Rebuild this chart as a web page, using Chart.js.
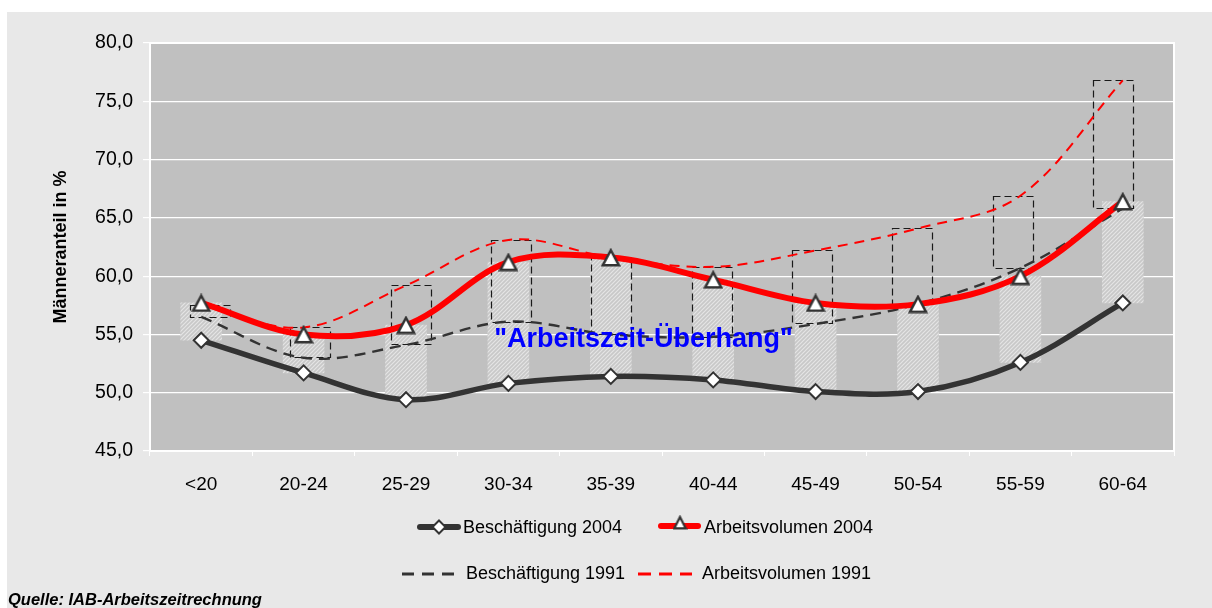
<!DOCTYPE html>
<html><head><meta charset="utf-8">
<script src="https://cdn.jsdelivr.net/npm/chart.js@4.4.1/dist/chart.umd.min.js"></script>
<style>html,body{margin:0;padding:0;background:#fff;}</style>
</head><body>
<canvas id="c" width="1212" height="608"></canvas>
<script>
const categories = ['<20','20-24','25-29','30-34','35-39','40-44','45-49','50-54','55-59','60-64'];
const beschaeftigung2004 = [54.5, 51.7, 49.4, 50.8, 51.4, 51.1, 50.1, 50.1, 52.6, 57.7];
const arbeitsvolumen2004 = [57.7, 55.0, 55.8, 61.2, 61.6, 59.7, 57.7, 57.6, 60.0, 66.4];
const beschaeftigung1991 = [56.5, 53.0, 54.1, 56.1, 55.0, 54.8, 55.9, 57.6, 60.7, 65.8];
const arbeitsvolumen1991 = [57.5, 55.6, 59.2, 63.1, 61.6, 60.8, 62.2, 64.1, 66.9, 76.8];
const seriesNames = ['Beschäftigung 2004','Arbeitsvolumen 2004','Beschäftigung 1991','Arbeitsvolumen 1991'];
const annotationText = '"Arbeitszeit-Überhang"';
const sourceText = 'Quelle: IAB-Arbeitszeitrechnung';
const yTitle = 'Männeranteil in %';

const FONT = '"Liberation Sans", Arial, sans-serif';

function makeHatch(){
  const c = document.createElement('canvas'); c.width = 4; c.height = 4;
  const g = c.getContext('2d');
  g.fillStyle = '#c8c8c8'; g.fillRect(0,0,4,4);
  g.strokeStyle = '#e4e4e4'; g.lineWidth = 1.2;
  g.beginPath(); g.moveTo(-1,5); g.lineTo(5,-1); g.stroke();
  g.beginPath(); g.moveTo(-1,1); g.lineTo(1,-1); g.stroke();
  g.beginPath(); g.moveTo(3,5); g.lineTo(5,3); g.stroke();
  return document.createElement('canvas').getContext('2d').createPattern(c,'repeat');
}
function makeTriangle(w, h, lw){
  const c = document.createElement('canvas'); c.width = w; c.height = h;
  const g = c.getContext('2d');
  g.fillStyle = '#fff'; g.strokeStyle = '#333'; g.lineWidth = lw; g.lineJoin = 'miter';
  g.beginPath();
  g.moveTo(w/2, lw*0.9);
  g.lineTo(w - lw*0.8, h - lw/2 - 0.5);
  g.lineTo(lw*0.8, h - lw/2 - 0.5);
  g.closePath(); g.fill(); g.stroke();
  return c;
}
const triBig = makeTriangle(20, 19, 2.5);
const triSmall = makeTriangle(15, 15, 2.2);
const hatch = makeHatch();

const boxData = beschaeftigung1991.map((v,i)=>({x:i, y:[v, arbeitsvolumen1991[i]]}));

const plugin = {
  id: 'custom',
  beforeDraw(chart){
    const {ctx, chartArea:a} = chart;
    ctx.save();
    ctx.fillStyle = '#ffffff'; ctx.fillRect(0,0,chart.width,chart.height);
    ctx.fillStyle = '#e8e8e8'; ctx.fillRect(7,12,chart.width-7,chart.height-12);
    ctx.fillStyle = '#c0c0c0'; ctx.fillRect(a.left,a.top,a.right-a.left,a.bottom-a.top);
    ctx.restore();
  },
  beforeDatasetsDraw(chart){
    const {ctx, chartArea:a} = chart;
    ctx.save();
    ctx.strokeStyle = '#ffffff'; ctx.lineWidth = 2;
    ctx.strokeRect(a.left, a.top, a.right-a.left, a.bottom-a.top);
    ctx.restore();
  },
  afterDatasetDraw(chart, args){
    if (chart.data.datasets[args.index].id !== 'box') return;
    const ctx = chart.ctx;
    ctx.save();
    ctx.strokeStyle = '#1a1a1a'; ctx.lineWidth = 1.2; ctx.setLineDash([7,4]);
    args.meta.data.forEach(el=>{
      const top = Math.min(el.y, el.base), bot = Math.max(el.y, el.base);
      ctx.strokeRect(Math.round(el.x - el.width/2)+0.5, Math.round(top)+0.5, Math.round(el.width), Math.round(bot-top));
    });
    ctx.restore();
  },
  afterDatasetsDraw(chart){
    const ctx = chart.ctx, xs = chart.scales.x, ys = chart.scales.y;
    ctx.save();
    ctx.font = 'bold 27px ' + FONT;
    ctx.fillStyle = '#0000ff'; ctx.textAlign = 'center'; ctx.textBaseline = 'middle';
    ctx.fillText(annotationText, xs.getPixelForValue(4.32), ys.getPixelForValue(54.6));
    ctx.restore();
  },
  afterDraw(chart){
    const ctx = chart.ctx;
    ctx.save();
    const y1 = 527, y2 = 574;
    ctx.lineCap = 'round';
    ctx.strokeStyle = '#333'; ctx.lineWidth = 6;
    ctx.beginPath(); ctx.moveTo(420,y1); ctx.lineTo(458,y1); ctx.stroke();
    ctx.fillStyle = '#fff'; ctx.lineWidth = 2; ctx.lineCap='butt';
    ctx.beginPath(); ctx.moveTo(439,y1-6.5); ctx.lineTo(445.5,y1); ctx.lineTo(439,y1+6.5); ctx.lineTo(432.5,y1); ctx.closePath(); ctx.fill(); ctx.stroke();
    ctx.lineCap = 'round';
    ctx.strokeStyle = '#ff0000'; ctx.lineWidth = 6;
    ctx.beginPath(); ctx.moveTo(661,y1-1); ctx.lineTo(698,y1-1); ctx.stroke();
    ctx.drawImage(triSmall, 680 - triSmall.width/2, y1 - 12);
    ctx.lineCap = 'butt';
    ctx.strokeStyle = '#333'; ctx.lineWidth = 3; ctx.setLineDash([12,8]);
    ctx.beginPath(); ctx.moveTo(402,y2); ctx.lineTo(456,y2); ctx.stroke();
    ctx.strokeStyle = '#ff0000'; ctx.setLineDash([13,8]);
    ctx.beginPath(); ctx.moveTo(638,y2); ctx.lineTo(692,y2); ctx.stroke();
    ctx.setLineDash([]);
    ctx.fillStyle = '#000'; ctx.font = '18px ' + FONT; ctx.textBaseline = 'middle'; ctx.textAlign = 'left';
    ctx.fillText(seriesNames[0], 463, y1+1);
    ctx.fillText(seriesNames[1], 704, y1+1);
    ctx.fillText(seriesNames[2], 466, y2);
    ctx.fillText(seriesNames[3], 702, y2);
    ctx.font = 'italic bold 16.5px ' + FONT; ctx.textBaseline = 'alphabetic';
    ctx.fillText(sourceText, 8, 605);
    ctx.restore();
  }
};

new Chart(document.getElementById('c'), {
  data: {
    labels: categories,
    datasets: [
      { type:'line', label: seriesNames[0], data: beschaeftigung2004, borderColor:'#333333', borderWidth:5.5,
        tension:0.35, fill:false, pointStyle:'rectRot', pointRadius:7.5, pointBackgroundColor:'#fff',
        pointBorderColor:'#333', pointBorderWidth:2, order:1, xAxisID:'x', yAxisID:'y' },
      { type:'line', label: seriesNames[1], data: arbeitsvolumen2004, borderColor:'#ff0000', borderWidth:6,
        tension:0.35, fill:false, pointStyle:triBig, pointRadius:9, order:0, xAxisID:'x', yAxisID:'y' },
      { type:'line', label: seriesNames[2], data: beschaeftigung1991, borderColor:'#333333', borderWidth:2.4,
        borderDash:[11,7], tension:0.35, fill:false, pointRadius:0, order:3, xAxisID:'x', yAxisID:'y' },
      { type:'line', label: seriesNames[3], data: arbeitsvolumen1991, borderColor:'#ff0000', borderWidth:2,
        borderDash:[10,7], tension:0.35, fill:false, pointRadius:0, order:2, xAxisID:'x', yAxisID:'y' },
      { type:'bar', id:'hatch', label:'2004', data: beschaeftigung2004.map((v,i)=>[v, arbeitsvolumen2004[i]]),
        backgroundColor: hatch, borderWidth:0, barThickness:41, grouped:false, order:6, xAxisID:'x', yAxisID:'y' },
      { type:'bar', id:'box', label:'1991', data: boxData, backgroundColor:'rgba(0,0,0,0)', borderWidth:0,
        barThickness:40, grouped:false, order:5, xAxisID:'x2', yAxisID:'y' }
    ]
  },
  options: {
    responsive:false, animation:false, events:[],
    layout:{ padding:{ left:50, top:43, right:38, bottom:107 } },
    plugins:{ legend:{display:false}, tooltip:{enabled:false}, title:{display:false} },
    scales:{
      x:{ type:'category', offset:true, position:'bottom',
          grid:{ offset:true, drawOnChartArea:false, color:'#ffffff', tickLength:5, lineWidth:1 },
          border:{ color:'#ffffff', width:2 },
          ticks:{ color:'#000', font:{family:FONT, size:19}, padding:17, maxRotation:0 },
          afterFit(s){ s.height = 50; } },
      x2:{ type:'linear', display:false, offset:false, bounds:'data', min:-0.598, max:9.608,
           grid:{offset:false} },
      y:{ type:'linear', min:45, max:80, position:'left',
          grid:{ color:'#ffffff', lineWidth:1.2, tickLength:7 },
          border:{ color:'#ffffff', width:2 },
          ticks:{ stepSize:5, color:'#000', font:{family:FONT, size:19.5}, padding:10,
                  callback:(v)=>v.toFixed(1).replace('.',',') },
          title:{ display:true, text:yTitle, color:'#000', font:{family:FONT, size:18, weight:'bold'}, padding:0 },
          afterFit(s){ s.width = 100; } }
    }
  },
  plugins:[plugin]
});
</script>
</body></html>
